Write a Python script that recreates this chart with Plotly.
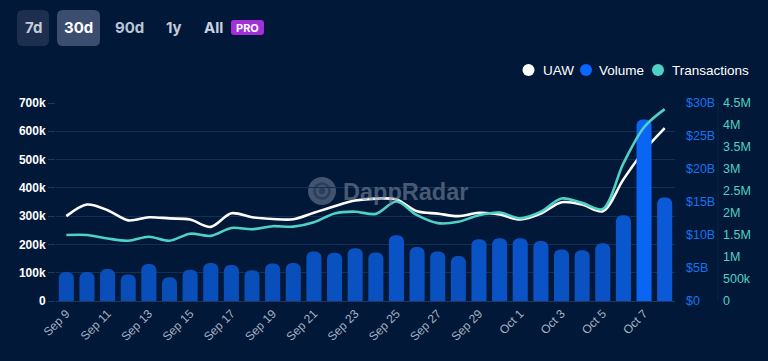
import plotly.graph_objects as go

# ---------------- data ----------------
dates = ["Sep 9", "Sep 10", "Sep 11", "Sep 12", "Sep 13", "Sep 14", "Sep 15", "Sep 16",
         "Sep 17", "Sep 18", "Sep 19", "Sep 20", "Sep 21", "Sep 22", "Sep 23", "Sep 24",
         "Sep 25", "Sep 26", "Sep 27", "Sep 28", "Sep 29", "Sep 30", "Oct 1", "Oct 2",
         "Oct 3", "Oct 4", "Oct 5", "Oct 6", "Oct 7", "Oct 8"]

volume_b = [4.4, 4.4, 4.85, 4.0, 5.6, 3.6, 4.75, 5.75, 5.45, 4.65, 5.7, 5.75, 7.5, 7.3,
            8.0, 7.35, 9.95, 8.2, 7.5, 6.8, 9.35, 9.5, 9.5, 9.1, 7.8, 7.7, 8.75, 13.0,
            27.5, 15.7]

uaw = [300000, 341000, 321000, 285000, 296000, 292000, 288000, 262000, 310000, 296000,
       290000, 289000, 312000, 335000, 355000, 362000, 359000, 317000, 309000, 300000,
       312000, 306000, 288000, 309000, 349000, 341000, 317000, 430000, 531000, 611000]

transactions = [1500000, 1500000, 1420000, 1370000, 1460000, 1370000, 1530000, 1480000,
                1660000, 1630000, 1700000, 1690000, 1790000, 1990000, 2030000, 1980000,
                2260000, 1950000, 1770000, 1800000, 1950000, 2010000, 1880000, 2030000,
                2330000, 2230000, 2090000, 3130000, 3950000, 4360000]

x_tick_labels = dates[::2]

uaw_ticks = [0, 100000, 200000, 300000, 400000, 500000, 600000, 700000]
uaw_tick_text = ["0", "100k", "200k", "300k", "400k", "500k", "600k", "700k"]

vol_ticks = [0, 5, 10, 15, 20, 25, 30]
vol_tick_text = ["$0", "$5B", "$10B", "$15B", "$20B", "$25B", "$30B"]

tx_ticks = [0, 500000, 1000000, 1500000, 2000000, 2500000, 3000000, 3500000, 4000000, 4500000]
tx_tick_text = ["0", "500k", "1M", "1.5M", "2M", "2.5M", "3M", "3.5M", "4M", "4.5M"]

range_buttons = ["7d", "30d", "90d", "1y", "All"]
legend_names = ["UAW", "Volume", "Transactions"]

# ---------------- style ----------------
W, H = 768, 361
ML, MR, MT, MB = 56, 10, 103, 60
PW, PH = W - ML - MR, H - MT - MB
BG = "#021838"
GRID = "#142f57"
WHITE = "#ffffff"
BLUE_LBL = "#1673f0"
TEAL = "#4fd1c5"
FONT = "Liberation Sans, Arial, sans-serif"


def px(x):
    return (x - ML) / PW


def py(y):
    return (H - MB - y) / PH


def rrect(x0, y0, x1, y1, r):
    X0, X1 = px(x0), px(x1)
    Y0, Y1 = py(y0), py(y1)
    rx, ry = r / PW, r / PH
    return (f"M {X0+rx},{Y0} L {X1-rx},{Y0} Q {X1},{Y0} {X1},{Y0-ry} "
            f"L {X1},{Y1+ry} Q {X1},{Y1} {X1-rx},{Y1} L {X0+rx},{Y1} "
            f"Q {X0},{Y1} {X0},{Y1+ry} L {X0},{Y0-ry} Q {X0},{Y0} {X0+rx},{Y0} Z")


fig = go.Figure()

fig.add_trace(go.Bar(
    x=dates, y=volume_b, yaxis="y2", name="Volume",
    marker=dict(color=volume_b, colorscale=[[0, "#094cb4"], [0.35, "#0a55cc"], [1, "#0a66f5"]],
                cmin=3, cmax=28, showscale=False, cornerradius=6, line=dict(width=0)),
    showlegend=False,
))
fig.add_trace(go.Scatter(
    x=dates, y=transactions, yaxis="y3", name="Transactions", mode="lines",
    line=dict(color=TEAL, width=2.6, shape="spline", smoothing=0.9),
    showlegend=False,
))
fig.add_trace(go.Scatter(
    x=dates, y=uaw, yaxis="y", name="UAW", mode="lines",
    line=dict(color=WHITE, width=2.6, shape="spline", smoothing=0.9),
    showlegend=False,
))

shapes = []
annotations = []

# faint separator between right axes
shapes.append(dict(type="line", xref="paper", yref="paper",
                   x0=px(718), x1=px(718), y0=0, y1=1,
                   line=dict(color="#0c2447", width=1), layer="below"))

# custom legend (circle + label)
leg_circle_x = [528.5, 586, 658]
leg_text_x = [540.5, 597, 670]
leg_cols = [WHITE, "#0a66ff", TEAL]
for name, cx, tx, col in zip(legend_names, leg_circle_x, leg_text_x, leg_cols):
    shapes.append(dict(type="circle", xref="paper", yref="paper",
                       x0=px(cx - 6), x1=px(cx + 6), y0=py(76), y1=py(64),
                       fillcolor=col, line=dict(width=0), layer="above"))
    annotations.append(dict(text=name, x=px(tx), y=py(70.5), xref="paper", yref="paper",
                            showarrow=False, xanchor="left", yanchor="middle",
                            font=dict(family=FONT, size=13.5, color=WHITE)))

# range buttons
shapes.append(dict(type="path", xref="paper", yref="paper", path=rrect(17, 10, 49, 46, 6),
                   fillcolor="#1d2e4e", line=dict(width=0), layer="above"))
shapes.append(dict(type="path", xref="paper", yref="paper", path=rrect(57, 10, 100, 46, 6),
                   fillcolor="#3b4e70", line=dict(width=0), layer="above"))
btn_x = [33, 78.5, 129, 174, 213]
btn_col = ["#c3ccd9", "#ffffff", "#b9c5d6", "#c3ccd9", "#c9d3e0"]
for t, xx, c in zip(range_buttons, btn_x, btn_col):
    annotations.append(dict(text=t, x=px(xx), y=py(28), xref="paper", yref="paper",
                            showarrow=False, xanchor="center", yanchor="middle",
                            font=dict(family="Inter, sans-serif", size=15, color=c, weight="bold")))
shapes.append(dict(type="path", xref="paper", yref="paper", path=rrect(231, 20, 264, 35, 3),
                   fillcolor="#a32fd9", line=dict(width=0), layer="above"))
annotations.append(dict(text="PRO", x=px(247.5), y=py(27.8), xref="paper", yref="paper",
                        showarrow=False, xanchor="center", yanchor="middle",
                        font=dict(family="Inter, sans-serif", size=11, color="#ffffff", weight="bold")))

# watermark
shapes.append(dict(type="circle", xref="paper", yref="paper",
                   x0=px(308), x1=px(336), y0=py(205), y1=py(177),
                   fillcolor="rgba(120,134,156,0.55)", line=dict(width=0), layer="below"))
shapes.append(dict(type="circle", xref="paper", yref="paper",
                   x0=px(314.5), x1=px(329.5), y0=py(198.5), y1=py(183.5),
                   fillcolor="rgba(0,0,0,0)", line=dict(width=2.5, color="#2a3d5c"), layer="below"))
shapes.append(dict(type="circle", xref="paper", yref="paper",
                   x0=px(319), x1=px(325), y0=py(194), y1=py(188),
                   fillcolor="#2a3d5c", line=dict(width=0), layer="below"))
annotations.append(dict(text="DappRadar", x=px(341), y=py(191.5), xref="paper", yref="paper",
                        showarrow=False, xanchor="left", yanchor="middle",
                        font=dict(family=FONT, size=23.5, color="rgba(120,134,156,0.6)", weight="bold")))

fig.update_layout(
    width=W, height=H,
    margin=dict(l=ML, r=MR, t=MT, b=MB),
    paper_bgcolor=BG, plot_bgcolor=BG,
    font=dict(family=FONT, color=WHITE),
    bargap=0.27,
    showlegend=False,
    shapes=shapes,
    annotations=annotations,
    xaxis=dict(
        domain=[0, (675 - ML) / PW],
        type="category",
        tickmode="array", tickvals=x_tick_labels, ticktext=x_tick_labels,
        tickangle=-45,
        tickfont=dict(family=FONT, size=12, color="#a5b1c4"),
        showgrid=False, showline=True, linecolor="#1c3762", linewidth=1,
        ticks="", zeroline=False,
    ),
    yaxis=dict(
        range=[0, 700000], tickmode="array", tickvals=uaw_ticks, ticktext=uaw_tick_text,
        tickfont=dict(family=FONT, size=12, color=WHITE, weight="bold"),
        showgrid=True, gridcolor=GRID, gridwidth=1,
        ticks="outside", ticklen=7, tickcolor="#1c3762",
        zeroline=False, showline=False,
    ),
    yaxis2=dict(
        range=[0, 30], overlaying="y", side="right", anchor="x",
        tickmode="array", tickvals=vol_ticks, ticktext=vol_tick_text,
        tickfont=dict(family=FONT, size=12.5, color=BLUE_LBL),
        showgrid=False, zeroline=False, showline=False, ticks="", ticklabelstandoff=10,
    ),
    yaxis3=dict(
        range=[0, 4500000], overlaying="y", side="right", anchor="free",
        position=(722 - ML) / PW,
        tickmode="array", tickvals=tx_ticks, ticktext=tx_tick_text,
        tickfont=dict(family=FONT, size=12.5, color=TEAL),
        showgrid=False, zeroline=False, showline=False, ticks="",
    ),
)

fig.write_html(
    "out.html",
    config={"displayModeBar": False},
    post_script="document.body.style.margin='0';document.body.style.background='" + BG + "';",
)
